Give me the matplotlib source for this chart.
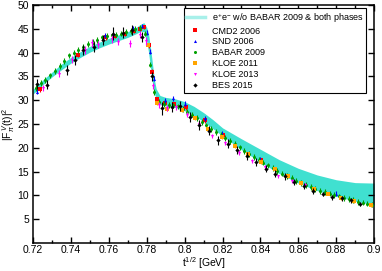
import matplotlib
matplotlib.use("Agg")
import matplotlib.pyplot as plt
from matplotlib.lines import Line2D

plt.rcParams["font.family"] = ["Liberation Sans", "DejaVu Sans"]
plt.rcParams["mathtext.fontset"] = "custom"
plt.rcParams["mathtext.rm"] = "Liberation Sans"
plt.rcParams["mathtext.it"] = "Liberation Sans:italic"

# fitted band (e+e- w/o BABAR 2009 & both phases)
band_x = [0.72, 0.725, 0.73, 0.735, 0.74, 0.745, 0.75, 0.755, 0.76, 0.765, 0.77, 0.774,
          0.777, 0.7785, 0.78, 0.781, 0.782, 0.783, 0.784, 0.785, 0.787, 0.79, 0.795,
          0.80, 0.805, 0.81, 0.815, 0.82, 0.83, 0.84, 0.85, 0.86, 0.87, 0.88, 0.89, 0.90]
band_lo = [31.3, 33.2, 34.9, 36.4, 37.8, 39.0, 40.1, 41.0, 41.8, 42.5, 43.2, 43.9,
           44.5, 44.4, 42.3, 40.0, 36.8, 33.8, 31.6, 30.2, 29.1, 28.8, 28.5,
           27.8, 26.8, 25.5, 24.0, 22.5, 19.6, 17.0, 14.6, 12.6, 11.0, 9.8, 8.8, 8.0]
band_hi = [32.3, 34.2, 35.9, 37.6, 39.0, 40.2, 41.3, 42.2, 43.0, 43.7, 44.4, 45.2,
           46.0, 46.3, 45.3, 43.8, 41.0, 37.8, 34.4, 32.4, 31.0, 30.6, 30.3,
           29.7, 28.7, 27.4, 25.9, 24.2, 21.9, 19.7, 17.5, 15.7, 14.3, 13.3, 12.7, 12.6]

# BABAR 2009
babar_x = [0.7215, 0.724, 0.7265, 0.729, 0.7315, 0.734, 0.7365, 0.739, 0.7415, 0.744,
           0.7465, 0.749, 0.7515, 0.754, 0.7565, 0.759, 0.7615, 0.764, 0.7665, 0.769,
           0.7715, 0.774, 0.7765, 0.779, 0.7815, 0.784, 0.7865, 0.789, 0.7915, 0.794,
           0.7965, 0.799, 0.8015, 0.804, 0.8065, 0.809, 0.8115, 0.814, 0.8165, 0.819,
           0.8215, 0.824, 0.8265, 0.829, 0.8315, 0.834, 0.8365, 0.839, 0.8415, 0.844,
           0.8465, 0.849, 0.8515, 0.854, 0.8565, 0.859, 0.8615, 0.864, 0.8665, 0.869,
           0.8715, 0.874, 0.8765, 0.879, 0.8815, 0.884, 0.8865, 0.889, 0.8915, 0.894,
           0.8965, 0.899]
babar_y = [32.5, 33.6, 34.3, 35.2, 36.2, 37.2, 38.3, 39.4, 40.0, 40.6,
           41.2, 41.8, 42.3, 42.7, 43.2, 43.5, 43.6, 43.8, 44.0, 44.3,
           44.6, 45.0, 45.2, 44.0, 37.5, 31.8, 29.6, 29.2, 29.0, 28.9,
           28.7, 28.2, 27.6, 27.0, 26.2, 25.4, 24.7, 24.0, 23.4, 22.7,
           22.0, 21.4, 20.8, 20.1, 19.4, 18.7, 18.1, 17.5, 16.9, 16.3,
           15.8, 15.2, 14.6, 14.1, 13.6, 13.1, 12.6, 12.2, 11.8, 11.4,
           11.0, 10.7, 10.4, 10.1, 9.8, 9.5, 9.2, 9.0, 8.7, 8.5,
           8.3, 8.1]
babar_e = [0.6] * len(babar_x)

# BES 2015
bes_x = [0.7222, 0.7272, 0.7378, 0.7420, 0.7466, 0.7520, 0.7571, 0.7623, 0.7677, 0.7723,
         0.7774, 0.7829, 0.7879, 0.7932, 0.7975, 0.8028, 0.8076, 0.8128, 0.8178, 0.8228,
         0.8278, 0.8328, 0.8378, 0.8428, 0.8478, 0.8528, 0.8578, 0.8628, 0.8678, 0.8728,
         0.8778, 0.8828, 0.8878, 0.8928]
bes_y = [33.4, 33.3, 36.3, 38.4, 40.5, 41.2, 42.6, 44.0, 44.2, 44.7,
         43.3, 35.0, 28.3, 28.6, 28.8, 26.5, 24.8, 23.6, 21.6, 20.9,
         19.6, 18.3, 17.0, 15.6, 14.6, 14.0, 12.8, 12.0, 11.0, 10.3,
         9.6, 9.4, 9.0, 8.2]
bes_e = [1.0, 1.0, 1.0, 1.0, 1.0, 1.0, 1.0, 1.4, 1.2, 1.0,
         1.0, 1.0, 1.4, 1.0, 1.0, 1.0, 1.0, 0.9, 0.9, 0.9,
         0.8, 0.8, 0.8, 0.7, 0.7, 0.7, 0.6, 0.6, 0.6, 0.5,
         0.5, 0.5, 0.5, 0.5]

# KLOE 2013
kloe13_x = [0.7255, 0.7335, 0.7405, 0.7475, 0.7510, 0.7545, 0.7615, 0.7650, 0.7712, 0.7765,
            0.7795, 0.7835, 0.7865, 0.7905, 0.7955, 0.8015, 0.8075, 0.8145, 0.8215, 0.8285,
            0.8355, 0.8425, 0.8495, 0.8565, 0.8635]
kloe13_y = [32.6, 35.6, 38.5, 40.6, 42.0, 41.7, 42.8, 42.3, 41.9, 43.8,
            42.5, 33.0, 29.0, 28.3, 28.5, 27.0, 25.0, 22.5, 21.0, 19.0,
            17.3, 16.0, 14.0, 13.0, 12.2]
kloe13_e = [0.7, 0.7, 0.7, 0.8, 0.8, 0.8, 0.8, 0.8, 0.8, 0.8,
            0.8, 0.7, 0.6, 0.6, 0.6, 0.6, 0.5, 0.5, 0.5, 0.5,
            0.4, 0.4, 0.4, 0.4, 0.4]

# KLOE 2011
kloe11_x = [0.7805, 0.7855, 0.7905, 0.7985, 0.8055, 0.8125, 0.8195, 0.8265, 0.8335, 0.8405,
            0.8475, 0.8545, 0.8615, 0.8685, 0.8755, 0.8825, 0.8895, 0.8985]
kloe11_y = [41.5, 29.5, 28.2, 28.0, 26.2, 24.0, 22.3, 20.4, 18.8, 17.0,
            15.5, 14.0, 12.6, 11.4, 10.4, 9.5, 8.8, 7.9]
kloe11_e = [0.4] * len(kloe11_x)

# CMD2 2006
cmd2_x = [0.7235, 0.7435, 0.7585, 0.7635, 0.7685, 0.7735, 0.7765, 0.7785, 0.7810, 0.7830,
          0.7855, 0.7895, 0.7945, 0.8005, 0.8105, 0.8205, 0.8405]
cmd2_y = [32.3, 39.6, 43.2, 43.5, 44.0, 44.6, 45.0, 45.4, 41.5, 36.0,
          30.2, 29.4, 29.2, 28.5, 25.8, 22.6, 17.4]
cmd2_e = [0.5] * len(cmd2_x)

# SND 2006
snd_x = [0.7220, 0.7580, 0.7624, 0.7730, 0.7774, 0.7800, 0.7818, 0.7840, 0.7897, 0.7940,
         0.8002, 0.8108, 0.8196, 0.8400, 0.8800]
snd_y = [31.8, 43.6, 43.9, 45.1, 45.6, 44.2, 40.2, 34.5, 30.0, 30.4,
         29.3, 26.2, 23.0, 17.5, 10.4]
snd_e = [0.5] * len(snd_x)

xticks = [0.72, 0.74, 0.76, 0.78, 0.80, 0.82, 0.84, 0.86, 0.88, 0.90]
xtick_labels = ["0.72", "0.74", "0.76", "0.78", "0.8", "0.82", "0.84", "0.86", "0.88", "0.9"]
yticks = [5, 10, 15, 20, 25, 30, 35, 40, 45, 50]

fig = plt.figure(figsize=(3.82, 2.71), dpi=100)
ax = fig.add_axes([0.0864, 0.103, 0.893, 0.8785])

ax.fill_between(band_x, band_lo, band_hi, color="#40e0d0", lw=0, zorder=1)

series = [
    (cmd2_x, cmd2_y, cmd2_e, "#ff0000", "s", "CMD2 2006"),
    (snd_x, snd_y, snd_e, "#0000ff", "^", "SND 2006"),
    (babar_x, babar_y, babar_e, "#00a000", "o", "BABAR 2009"),
    (kloe11_x, kloe11_y, kloe11_e, "#ffa500", "s", "KLOE 2011"),
    (kloe13_x, kloe13_y, kloe13_e, "#ff00ff", "v", "KLOE 2013"),
    (bes_x, bes_y, bes_e, "#000000", "D", "BES 2015"),
]
handles = [Line2D([], [], color="#a8f0ea", lw=2.5)]
labels = [r"e$^{+}$e$^{-}$ w/o BABAR 2009 & both phases"]
for i, (x, y, e, c, m, lab) in enumerate(series):
    ax.errorbar(x, y, yerr=e, fmt=m, color=c, ms=2.2, mew=0, elinewidth=0.8,
                capsize=1.5, capthick=0.8, zorder=2 + i)
    handles.append(Line2D([], [], ls="none", marker=m, color=c, ms=2.2, mew=0))
    labels.append(lab)

ax.set_xlim(0.72, 0.9)
ax.set_ylim(0, 50)
ax.set_xticks(xticks)
ax.set_xticklabels(xtick_labels)
ax.set_xticks([0.73, 0.75, 0.77, 0.79, 0.81, 0.83, 0.85, 0.87, 0.89], minor=True)
ax.set_yticks(yticks)
ax.tick_params(which="both", direction="in", top=True, right=True, labelsize=7.5,
               width=1)
ax.tick_params(axis="x", pad=1.5)
ax.tick_params(axis="y", pad=3)
ax.tick_params(which="major", length=4)
ax.tick_params(which="minor", length=2)
for s in ax.spines.values():
    s.set_linewidth(1.1)

ax.set_xlabel(r"t$^{1/2}$ [GeV]", fontsize=7.5, labelpad=0)
ax.set_ylabel(r"|F$_{\pi}^{\,V}$(t)|$^{2}$", fontsize=7.5, labelpad=0)

leg = ax.legend(handles, labels, loc="upper right", bbox_to_anchor=(0.977, 0.987),
                borderaxespad=0, fontsize=6.5, fancybox=False, framealpha=1,
                edgecolor="black", handlelength=2.0, handletextpad=0.8,
                labelspacing=0.22, borderpad=0.3)
leg.get_frame().set_linewidth(0.8)

plt.savefig("out.png", dpi=100)
plt.close()
